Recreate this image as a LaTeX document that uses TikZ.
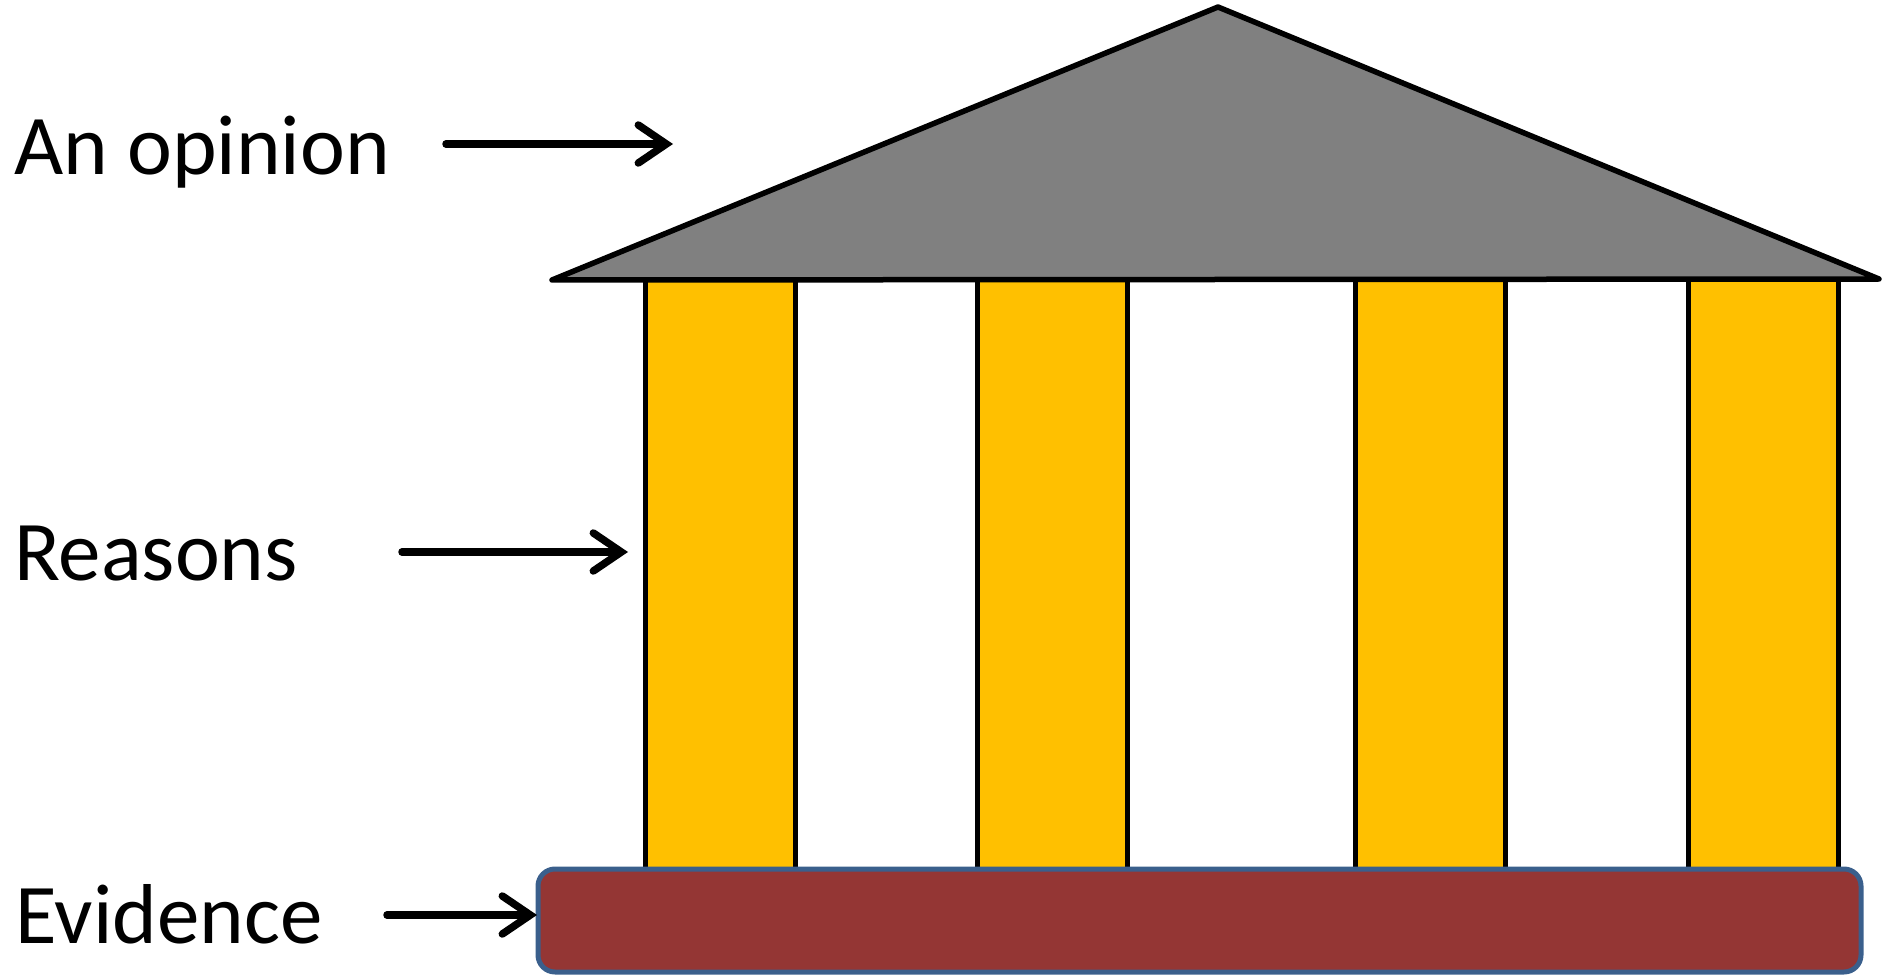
\documentclass[tikz,border=0pt]{standalone}
\usepackage{fontspec}
\setmainfont{Carlito}
\usetikzlibrary{arrows.meta}
\definecolor{roofgray}{HTML}{808080}
\definecolor{pillar}{HTML}{FFC000}
\definecolor{basered}{HTML}{943634}
\definecolor{baseblue}{HTML}{3A5F8C}
\tikzset{
  label/.style={anchor=base west, inner sep=0pt, font=\fontsize{85}{100}\selectfont},
  pointer/.style={line width=7.5pt, line cap=round, -{Straight Barb[length=28pt,width=38pt,line cap=round]}},
  column/.style={fill=pillar, draw=black, line width=5pt},
  roof/.style={fill=roofgray, draw=black, line width=5.5pt, line join=round, line cap=round},
  plinth/.style={fill=basered, draw=baseblue, line width=5pt, rounded corners=17pt}
}
\begin{document}
\begin{tikzpicture}[x=1pt,y=-1pt]
\useasboundingbox (0,0) rectangle (1882,976);
% columns
\draw[column] (645,280) rectangle (795,869);
\draw[column] (977,280) rectangle (1127,869);
\draw[column] (1355,280) rectangle (1505,869);
\draw[column] (1688,280) rectangle (1838,869);
% roof
\draw[roof] (552,280) -- (1218,7) -- (1879,279) -- cycle;
% base
\draw[plinth] (538,869) rectangle (1861,972);
% labels
\node[label] (opinion) at (14,175) {An opinion};
\node[label] (reasons) at (14,580) {Reasons};
\node[label] (evidence) at (15,943) {Evidence};
% arrow coordinates
\coordinate (o1) at (446,144); \coordinate (o2) at (673,144);
\coordinate (r1) at (402,552); \coordinate (r2) at (628,552);
\coordinate (e1) at (387,915); \coordinate (e2) at (537,915);
\draw[pointer] (o1) -- (o2);
\draw[pointer] (r1) -- (r2);
\draw[pointer] (e1) -- (e2);
\end{tikzpicture}
\end{document}
